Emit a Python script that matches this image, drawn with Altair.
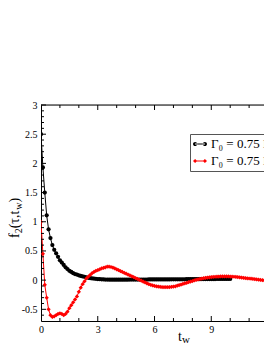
import altair as alt
import pandas as pd

# ---------------- data ----------------
SERIES = ["Γ₀ = 0.75  Γ = 0.5", "Γ₀ = 0.75   Γ = 1.0"]

T_BLACK = [round(0.1 * i, 1) for i in range(101)]
V_BLACK = [2.5, 1.93, 1.5, 1.11, 0.87, 0.72, 0.6, 0.52, 0.46, 0.4,
           0.34, 0.3, 0.26, 0.22, 0.19, 0.16, 0.14, 0.12, 0.105, 0.095,
           0.082, 0.072, 0.064, 0.056, 0.048, 0.04, 0.035, 0.03, 0.026, 0.022,
           0.019, 0.016, 0.014, 0.012, 0.01, 0.009, 0.008, 0.007, 0.007, 0.007,
           0.007, 0.007, 0.008, 0.008, 0.008, 0.008, 0.008, 0.009, 0.009, 0.009,
           0.009, 0.009, 0.01, 0.01, 0.01, 0.01, 0.01, 0.011, 0.011, 0.011,
           0.011, 0.012, 0.012, 0.012, 0.012, 0.013, 0.013, 0.013, 0.013, 0.014,
           0.014, 0.014, 0.014, 0.015, 0.015, 0.015, 0.015, 0.016, 0.016, 0.016,
           0.016, 0.017, 0.017, 0.017, 0.017, 0.018, 0.018, 0.018, 0.018, 0.019,
           0.019, 0.019, 0.019, 0.02, 0.02, 0.02, 0.02, 0.02, 0.02, 0.02, 0.02]

T_RED = [round(0.1 * i, 1) for i in range(126)]
V_RED = [1.0, 0.45, -0.08, -0.3, -0.5, -0.6, -0.63, -0.62, -0.6, -0.58,
         -0.57, -0.58, -0.6, -0.58, -0.54, -0.48, -0.43, -0.38, -0.33, -0.28,
         -0.2, -0.13, -0.07, -0.02, 0.03, 0.06, 0.09, 0.12, 0.14, 0.16,
         0.17, 0.185, 0.2, 0.21, 0.22, 0.23, 0.23, 0.225, 0.215, 0.2,
         0.185, 0.17, 0.155, 0.14, 0.125, 0.11, 0.095, 0.08, 0.065, 0.05,
         0.035, 0.02, 0.005, -0.01, -0.025, -0.04, -0.055, -0.07, -0.08, -0.09,
         -0.1, -0.105, -0.11, -0.115, -0.118, -0.12, -0.12, -0.12, -0.118, -0.115,
         -0.11, -0.105, -0.095, -0.085, -0.075, -0.065, -0.055, -0.045, -0.035, -0.025,
         -0.015, -0.005, 0.005, 0.013, 0.02, 0.027, 0.033, 0.039, 0.044, 0.048,
         0.052, 0.055, 0.058, 0.06, 0.062, 0.063, 0.064, 0.064, 0.064, 0.063,
         0.062, 0.06, 0.058, 0.055, 0.052, 0.048, 0.044, 0.04, 0.036, 0.032,
         0.028, 0.024, 0.02, 0.016, 0.012, 0.008, 0.004, 0.0, -0.004, -0.008,
         -0.012, -0.015, -0.018, -0.02, -0.022, -0.024]

X_MAJOR = [0, 3, 6, 9, 12]
X_MINOR = [1, 2, 4, 5, 7, 8, 10, 11]
Y_MAJOR = [-0.5, 0, 0.5, 1, 1.5, 2, 2.5, 3]
Y_MINOR = [-0.6, -0.4, -0.3, -0.2, -0.1, 0.1, 0.2, 0.3, 0.4, 0.6, 0.7, 0.8, 0.9,
           1.1, 1.2, 1.3, 1.4, 1.6, 1.7, 1.8, 1.9, 2.1, 2.2, 2.3, 2.4, 2.6, 2.7, 2.8, 2.9]

# ---------------- chart ----------------
PX_PER_T = 18.92
W, H = 223, 216
FONT = "Liberation Serif"

xs = alt.Scale(domain=[0, W / PX_PER_T], nice=False, zero=False)
ys = alt.Scale(domain=[-0.7, 3], nice=False, zero=False)

black = pd.DataFrame({"t": T_BLACK, "v": V_BLACK})
red = pd.DataFrame({"t": T_RED, "v": V_RED})

x_axis = alt.Axis(values=X_MAJOR, title=None, ticks=False, tickSize=0, grid=False,
                  format="d", labelPadding=3, labelFont=FONT, labelFontSize=10,
                  labelColor="black", domainColor="black", labelOverlap=False,
                  labelBound=False, labelFlush=False)
y_axis = alt.Axis(values=Y_MAJOR, title=None, ticks=False, tickSize=0, grid=False,
                  format="~g", labelPadding=4, labelFont=FONT, labelFontSize=10,
                  labelColor="black", domainColor="black", labelOverlap=False,
                  labelFlush=False)
X = alt.X("t:Q", scale=xs, axis=x_axis)
Y = alt.Y("v:Q", scale=ys, axis=y_axis)

red_line = alt.Chart(red).mark_line(color="#ff0000", strokeWidth=1, clip=True).encode(x=X, y=Y)
red_pts = alt.Chart(red).mark_point(shape="diamond", filled=True, size=18, color="#ff0000",
                                    opacity=1, clip=True).encode(x=X, y=Y)
blk_line = alt.Chart(black).mark_line(color="black", strokeWidth=1, clip=True).encode(x=X, y=Y)
blk_pts = alt.Chart(black).mark_point(shape="circle", filled=True, size=18, color="black",
                                      opacity=1, clip=True).encode(x=X, y=Y)

PATH_CIRC = ("M-0.7,-0.07H0.7V0.07H-0.7Z"
             "M-1,0A0.3,0.3 0 1,0 -0.4,0A0.3,0.3 0 1,0 -1,0Z"
             "M0.4,0A0.3,0.3 0 1,0 1,0A0.3,0.3 0 1,0 0.4,0Z")
PATH_DIAM = ("M-0.7,-0.07H0.7V0.07H-0.7Z"
             "M-1,0L-0.7,-0.3L-0.4,0L-0.7,0.3Z"
             "M0.4,0L0.7,-0.3L1,0L0.7,0.3Z")

leg = alt.Legend(orient="none", legendX=149, legendY=29, title=None, symbolSize=196,
                 symbolOpacity=1, symbolStrokeWidth=0, labelFont=FONT, labelFontSize=13,
                 labelColor="black", labelLimit=600, strokeColor="#555555",
                 fillColor="white", padding=3, rowPadding=3, labelOffset=4)
leg_df = pd.DataFrame({"s": SERIES, "t": [0, 0], "v": [0, 0]})
legend_layer = alt.Chart(leg_df).mark_point(filled=True, opacity=0).encode(
    x=X, y=Y,
    color=alt.Color("s:N", scale=alt.Scale(domain=SERIES, range=["black", "#ff0000"]), legend=leg),
    shape=alt.Shape("s:N", scale=alt.Scale(domain=SERIES, range=[PATH_CIRC, PATH_DIAM]), legend=leg),
)

def rules_x(vals, y0, y1):
    return alt.Chart(pd.DataFrame({"t": vals})).mark_rule(color="black", strokeWidth=1, clip=True).encode(
        x=X, y=alt.value(y0), y2=alt.value(y1))

def rules_y(vals, x0, x1):
    return alt.Chart(pd.DataFrame({"v": vals})).mark_rule(color="black", strokeWidth=1).encode(
        y=Y, x=alt.value(x0), x2=alt.value(x1))

one = pd.DataFrame({"k": [0]})

top_edge = alt.Chart(one).mark_rule(color="black", strokeWidth=1).encode(
    x=alt.value(0), x2=alt.value(W), y=alt.value(0))

ticks = [rules_x(X_MAJOR, H, H - 5), rules_x(X_MINOR, H, H - 3),
         rules_x(X_MAJOR, 0, 5), rules_x(X_MINOR, 0, 3),
         rules_y(Y_MAJOR, 0, 5), rules_y(Y_MINOR, 0, 3)]

def txt(s, x, y, size, angle=0):
    return alt.Chart(one).mark_text(text=s, font=FONT, fontSize=size, color="black",
                                    align="left", baseline="alphabetic", angle=angle).encode(
        x=alt.value(x), y=alt.value(y))

titles = [
    txt("t", 137, 236, 14), txt("w", 141, 238, 11),
    txt("f", -22, 133, 14, 270), txt("2", -19, 128.3, 10, 270),
    txt("(τ,t", -22, 123.3, 14, 270), txt("w", -19, 104.7, 10, 270),
    txt(")", -22, 97.5, 14, 270),
]

chart = alt.layer(blk_line, top_edge, red_line, blk_pts, red_pts, *ticks, legend_layer,
                  *titles).properties(
    width=W, height=H, autosize="none",
    padding={"left": 33, "top": 97, "right": 0, "bottom": 23},
).configure_view(stroke=None).configure(
    locale={"number": {"decimal": ".", "thousands": ",", "grouping": [3],
                       "currency": ["$", ""], "minus": "-"}}
)

chart.save("out.html", embed_options={"renderer": "svg", "actions": False})
